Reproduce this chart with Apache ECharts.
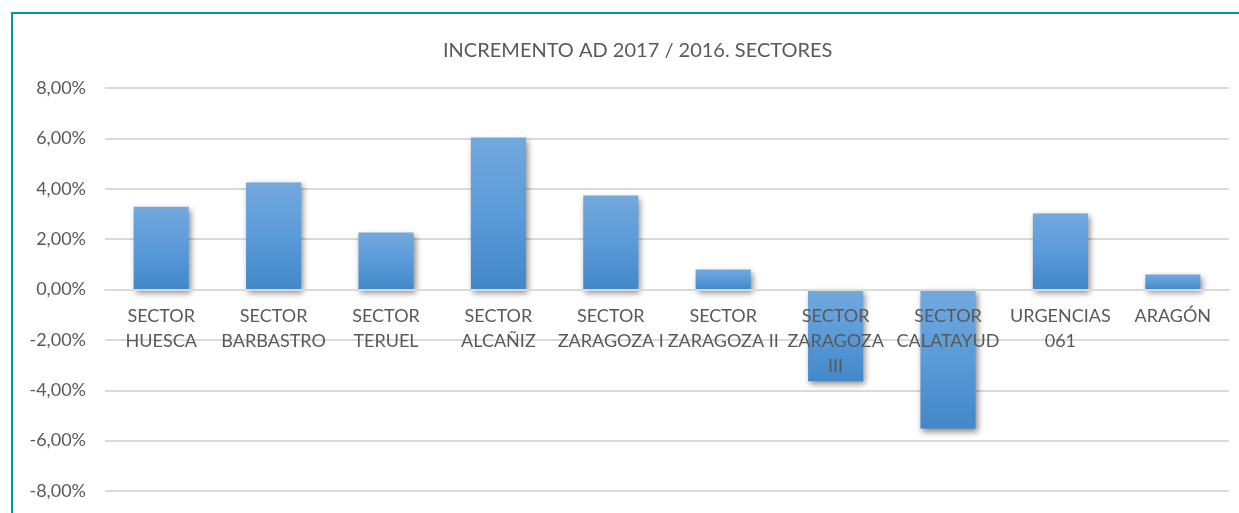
<!DOCTYPE html>
<html>
<head>
<meta charset="utf-8">
<script src="https://cdn.jsdelivr.net/npm/echarts@6/dist/echarts.min.js"></script>
<style>
  html, body { margin: 0; padding: 0; background: #fff; }
  #container { width: 1239px; height: 513px; }
  #frame {
    position: absolute; left: 11px; top: 12px; width: 1240px; height: 520px;
    border-top: 2px solid #009a9a; border-left: 2px solid #009a9a;
    pointer-events: none;
  }
</style>
</head>
<body>
<div id="container"></div>
<div id="frame"></div>
<script>
const categories = [
  "SECTOR\nHUESCA", "SECTOR\nBARBASTRO", "SECTOR\nTERUEL", "SECTOR\nALCAÑIZ",
  "SECTOR\nZARAGOZA I", "SECTOR\nZARAGOZA II", "SECTOR\nZARAGOZA\nIII",
  "SECTOR\nCALATAYUD", "URGENCIAS\n061", "ARAGÓN"
];
const increments = [3.29, 4.25, 2.26, 6.03, 3.73, 0.79, -3.64, -5.52, 3.02, 0.6];

const dom = document.getElementById("container");
const myChart = echarts.init(dom, null, { renderer: "canvas" });

const textColor = "#595959";
const font = "Lato";

const option = {
  animation: false,
  title: {
    text: "INCREMENTO AD 2017 / 2016. SECTORES",
    left: 438,
    top: 36,
    textStyle: { color: textColor, fontSize: 20, fontWeight: "normal", fontFamily: font },
  },
  grid: { left: 105, right: 10, top: 88, bottom: 22, containLabel: false, outerBoundsMode: "none" },
  xAxis: {
    type: "category",
    data: categories,
    z: 5,
    // the category axis sits on the 0% line (bottom of grid is -8%)
    offset: -201,
    axisLine: { onZero: false, lineStyle: { color: "#d9d9d9", width: 2 } },
    axisTick: { show: false },
    axisLabel: {
      interval: 0,
      margin: 14,
      color: textColor,
      fontSize: 18,
      lineHeight: 25,
      fontFamily: font,
    },
  },
  yAxis: {
    type: "value",
    min: -8,
    max: 8,
    interval: 2,
    axisLine: { show: false },
    axisTick: { show: false },
    splitLine: { lineStyle: { color: "#d9d9d9", width: 2 } },
    axisLabel: {
      margin: 19,
      color: textColor,
      fontSize: 18,
      fontFamily: font,
      formatter: (v) => v.toFixed(2).replace(".", ",") + "%",
    },
  },
  series: [
    {
      type: "bar",
      data: increments,
      barWidth: "49%",
      itemStyle: {
        color: new echarts.graphic.LinearGradient(0, 0, 0, 1, [
          { offset: 0, color: "#73a8dd" },
          { offset: 0.5, color: "#5a9bd9" },
          { offset: 1, color: "#4387c8" },
        ]),
        shadowBlur: 6,
        shadowColor: "rgba(0,0,0,0.45)",
        shadowOffsetX: 2,
        shadowOffsetY: 3,
      },
    },
  ],
};

myChart.setOption(option);
window.addEventListener("resize", myChart.resize);
</script>
</body>
</html>
